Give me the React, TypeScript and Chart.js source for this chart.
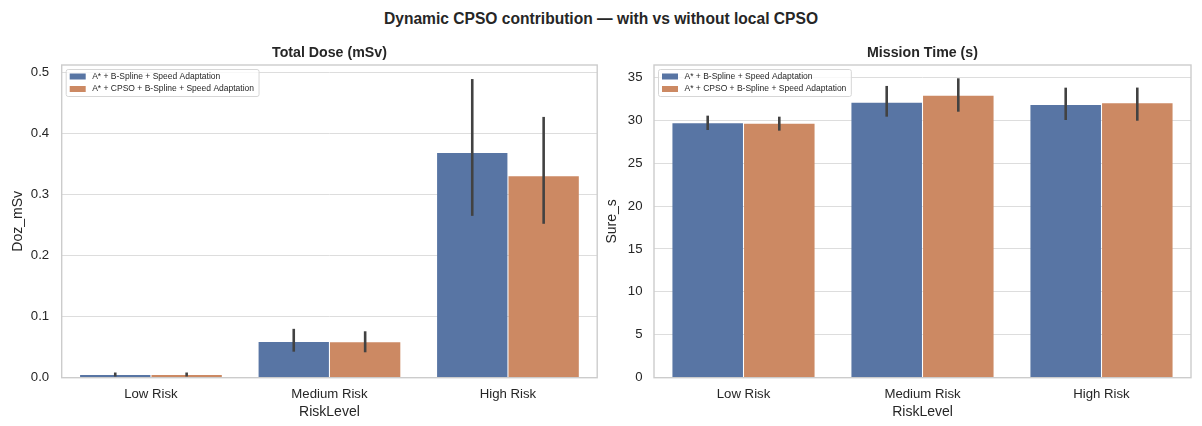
import { useEffect, useRef } from 'react';
import { Chart, registerables } from 'chart.js';

Chart.register(...registerables);

const FONT = '"Liberation Sans", Arial, sans-serif';
const TEXT = '#262626';
Chart.defaults.font.family = FONT;
Chart.defaults.color = TEXT;

const riskLevels = ['Low Risk', 'Medium Risk', 'High Risk'];
const methodLabels = [
  'A* + B-Spline + Speed Adaptation',
  'A* + CPSO + B-Spline + Speed Adaptation',
];
const methodColors = ['#5875a4', '#cc8963'];

// Total dose (mSv), mean and CI bounds
const doseBase = [0.0045, 0.0584, 0.368];
const doseBaseLo = [0.002, 0.0426, 0.265];
const doseBaseHi = [0.0085, 0.080, 0.489];
const doseCpso = [0.0045, 0.058, 0.330];
const doseCpsoLo = [0.002, 0.0416, 0.252];
const doseCpsoHi = [0.0085, 0.076, 0.427];

// Mission time (s), mean and CI bounds
const timeBase = [29.64, 32.04, 31.77];
const timeBaseLo = [28.86, 30.41, 30.02];
const timeBaseHi = [30.53, 33.99, 33.79];
const timeCpso = [29.6, 32.86, 31.97];
const timeCpsoLo = [28.78, 30.99, 29.94];
const timeCpsoHi = [30.41, 34.88, 33.8];

const errorBarPlugin = {
  id: 'errorBars',
  afterDatasetsDraw(chart: any) {
    const { ctx } = chart;
    const y = chart.scales.y;
    ctx.save();
    ctx.strokeStyle = '#424242';
    ctx.lineWidth = 2.6;
    chart.data.datasets.forEach((ds: any, i: number) => {
      chart.getDatasetMeta(i).data.forEach((bar: any, j: number) => {
        ctx.beginPath();
        ctx.moveTo(bar.x, y.getPixelForValue(ds.errLo[j]));
        ctx.lineTo(bar.x, y.getPixelForValue(ds.errHi[j]));
        ctx.stroke();
      });
    });
    ctx.restore();
  },
};

// spines on all four sides + subplot title centred over the plot
const framePlugin = {
  id: 'frame',
  afterDatasetsDraw(chart: any) {
    const { ctx, chartArea: a } = chart;
    ctx.save();
    ctx.strokeStyle = '#cccccc';
    ctx.lineWidth = 1.4;
    ctx.strokeRect(a.left, a.top, a.right - a.left, a.bottom - a.top);
    ctx.restore();
  },
  afterDraw(chart: any) {
    const { ctx, chartArea: a } = chart;
    const text = chart.options.plugins.frame?.title;
    if (!text) return;
    ctx.save();
    ctx.font = `bold 14.2px ${FONT}`;
    ctx.fillStyle = TEXT;
    ctx.textAlign = 'center';
    ctx.textBaseline = 'middle';
    ctx.fillText(text, (a.left + a.right) / 2, a.top - 11.7);
    ctx.restore();
  },
};

const innerLegendPlugin = {
  id: 'innerLegend',
  afterDraw(chart: any) {
    const { ctx, chartArea: a } = chart;
    const sets = chart.data.datasets;
    ctx.save();
    ctx.font = `8.5px ${FONT}`;
    const textW = Math.max(...sets.map((d: any) => ctx.measureText(d.label).width));
    const x0 = a.left + 4.5;
    const y0 = a.top + 4.5;
    const w = 26 + textW + 5;
    const h = 27;
    ctx.beginPath();
    ctx.roundRect(x0, y0, w, h, 2);
    ctx.fillStyle = 'rgba(255,255,255,0.8)';
    ctx.fill();
    ctx.strokeStyle = '#d6d6d6';
    ctx.lineWidth = 1;
    ctx.stroke();
    sets.forEach((d: any, i: number) => {
      const cy = y0 + 7 + i * 12.5;
      ctx.fillStyle = d.backgroundColor;
      ctx.fillRect(x0 + 3.5, cy - 3, 16, 6);
      ctx.fillStyle = TEXT;
      ctx.textBaseline = 'middle';
      ctx.fillText(d.label, x0 + 26, cy);
    });
    ctx.restore();
  },
};

function Panel({
  title,
  yTitle,
  series,
  yMax,
  step,
  decimals,
  yWidth,
  tickPad,
  yTitlePad,
  padRight,
}: {
  title: string;
  yTitle: string;
  series: { values: number[]; lo: number[]; hi: number[] }[];
  yMax: number;
  step: number;
  decimals: number;
  yWidth: number;
  tickPad: number;
  yTitlePad: number;
  padRight: number;
}) {
  const canvasRef = useRef<HTMLCanvasElement>(null);

  useEffect(() => {
    if (!canvasRef.current) return;
    const chart = new Chart(canvasRef.current, {
      type: 'bar',
      data: {
        labels: riskLevels,
        datasets: series.map((s, i) => ({
          label: methodLabels[i],
          data: s.values,
          errLo: s.lo,
          errHi: s.hi,
          backgroundColor: methodColors[i],
          borderWidth: 0,
          categoryPercentage: 0.8,
          barPercentage: 0.985,
        })) as any,
      },
      options: {
        animation: false,
        responsive: true,
        maintainAspectRatio: false,
        layout: { padding: { left: 0, right: padRight, top: 65, bottom: 0 } },
        plugins: {
          legend: { display: false },
          tooltip: { enabled: false },
          frame: { title },
        } as any,
        scales: {
          x: {
            grid: { display: false, drawTicks: false },
            border: { display: false },
            ticks: { padding: 8.9, font: { size: 13.2 }, color: TEXT },
            title: {
              display: true,
              text: 'RiskLevel',
              font: { size: 14 },
              color: TEXT,
              padding: { top: 0, bottom: 5.6 },
            },
            afterFit: (s: any) => {
              s.height = 48.3;
            },
          },
          y: {
            min: 0,
            max: yMax,
            grid: { color: '#dddddd', lineWidth: 1, drawTicks: false },
            border: { display: false },
            ticks: {
              stepSize: step,
              includeBounds: false,
              padding: tickPad,
              font: { size: 13.2 },
              color: TEXT,
              callback: (v: any) => Number(v).toFixed(decimals),
            },
            title: {
              display: true,
              text: yTitle,
              font: { size: 14 },
              color: TEXT,
              padding: { top: yTitlePad, bottom: 0 },
            },
            afterFit: (s: any) => {
              s.width = yWidth;
            },
          },
        },
      },
      plugins: [errorBarPlugin, framePlugin, innerLegendPlugin],
    });
    return () => chart.destroy();
  }, []);

  return <canvas ref={canvasRef} />;
}

export default function App() {
  return (
    <div
      style={{
        position: 'absolute',
        left: 0,
        top: 0,
        width: 1202,
        height: 426,
        background: '#ffffff',
        fontFamily: FONT,
      }}
    >
      <div
        style={{
          position: 'absolute',
          left: 0,
          top: 0,
          width: 1202,
          height: 38,
          lineHeight: '38px',
          textAlign: 'center',
          fontWeight: 'bold',
          fontSize: 15.6,
          color: TEXT,
        }}
      >
        Dynamic CPSO contribution — with vs without local CPSO
      </div>
      <div style={{ position: 'absolute', left: 0, top: 0, width: 600, height: 426 }}>
        <Panel
          title="Total Dose (mSv)"
          yTitle="Doz_mSv"
          series={[
            { values: doseBase, lo: doseBaseLo, hi: doseBaseHi },
            { values: doseCpso, lo: doseCpsoLo, hi: doseCpsoHi },
          ]}
          yMax={0.512}
          step={0.1}
          decimals={1}
          yWidth={61.7}
          tickPad={12.5}
          yTitlePad={9.9}
          padRight={2.8}
        />
      </div>
      <div style={{ position: 'absolute', left: 600, top: 0, width: 602, height: 426 }}>
        <Panel
          title="Mission Time (s)"
          yTitle="Sure_s"
          series={[
            { values: timeBase, lo: timeBaseLo, hi: timeBaseHi },
            { values: timeCpso, lo: timeCpsoLo, hi: timeCpsoHi },
          ]}
          yMax={36.43}
          step={5}
          decimals={0}
          yWidth={54}
          tickPad={11.5}
          yTitlePad={3.6}
          padRight={11}
        />
      </div>
    </div>
  );
}
